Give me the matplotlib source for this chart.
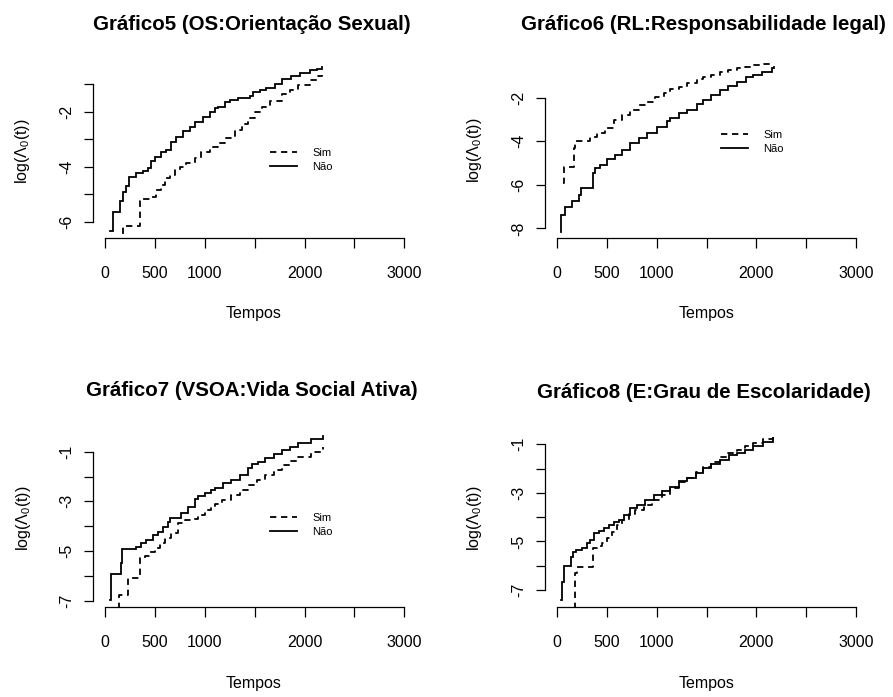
import matplotlib
matplotlib.use("Agg")
import matplotlib.pyplot as plt
from matplotlib.lines import Line2D

plt.rcParams['font.family'] = ['Liberation Sans', 'DejaVu Sans']
plt.rcParams['axes.unicode_minus'] = False
plt.rcParams['mathtext.fontset'] = 'custom'
plt.rcParams['mathtext.rm'] = 'Liberation Sans'
plt.rcParams['mathtext.it'] = 'Liberation Sans:italic'

# ---------------- data ----------------
titles = ["Gráfico5 (OS:Orientação Sexual)",
          "Gráfico6 (RL:Responsabilidade legal)",
          "Gráfico7 (VSOA:Vida Social Ativa)",
          "Gráfico8 (E:Grau de Escolaridade)"]
legend_labels = ["Sim", "Não"]
x_label = "Tempos"
y_label = r"log($\Lambda_0$(t))"
x_ticks = [0, 500, 1000, 1500, 2000, 2500, 3000]
x_ticklabels = ["0", "500", "1000", "", "2000", "", "3000"]

# Panel 5
t5_nao = [43, 76, 144, 177, 210, 237, 311, 378, 428, 462, 495, 562, 612, 662, 713, 780, 847, 897,
          981, 1048, 1098, 1132, 1199, 1250, 1330, 1400, 1450, 1480, 1550, 1617, 1700, 1769, 1860,
          1950, 2050, 2120, 2170]
y5_nao = [-6.33, -5.65, -5.23, -4.90, -4.70, -4.38, -4.24, -4.15, -4.06, -3.79, -3.63, -3.45, -3.40,
          -3.09, -2.91, -2.70, -2.55, -2.37, -2.18, -2.00, -1.88, -1.82, -1.66, -1.58, -1.52, -1.49,
          -1.44, -1.30, -1.22, -1.14, -0.99, -0.83, -0.72, -0.61, -0.51, -0.44, -0.39]
t5_sim = [120, 177, 345, 378, 445, 512, 562, 596, 646, 696, 747, 814, 897, 964, 1048, 1132, 1199,
          1299, 1370, 1433, 1500, 1568, 1650, 1769, 1850, 1936, 2050, 2137, 2170]
y5_sim = [-7.00, -6.13, -5.23, -5.18, -5.08, -4.84, -4.66, -4.42, -4.30, -4.12, -4.00, -3.85, -3.69,
          -3.45, -3.27, -3.15, -2.95, -2.67, -2.45, -2.24, -2.02, -1.82, -1.60, -1.37, -1.20, -1.02,
          -0.85, -0.70, -0.66]

# Panel 6
t6_nao = [40, 43, 84, 150, 218, 244, 358, 385, 435, 502, 585, 652, 736, 819, 903, 1003, 1104, 1134,
          1221, 1301, 1400, 1468, 1550, 1635, 1720, 1803, 1896, 1970, 2060, 2154, 2180]
y6_nao = [-8.15, -7.39, -7.01, -6.73, -6.47, -6.16, -5.47, -5.24, -5.09, -4.83, -4.63, -4.40, -4.10,
          -3.87, -3.64, -3.36, -3.06, -2.95, -2.69, -2.57, -2.30, -2.11, -1.88, -1.65, -1.47, -1.27,
          -1.06, -0.96, -0.80, -0.62, -0.58]
t6_sim = [65, 67, 167, 185, 334, 401, 485, 569, 652, 736, 819, 903, 987, 1071, 1134, 1221, 1301,
          1400, 1468, 1550, 1635, 1720, 1803, 1890, 1970, 2060, 2154]
y6_sim = [-5.93, -5.20, -4.30, -3.97, -3.82, -3.64, -3.41, -3.02, -2.79, -2.57, -2.34, -2.18, -1.95,
          -1.80, -1.61, -1.49, -1.34, -1.15, -1.04, -0.95, -0.81, -0.72, -0.65, -0.57, -0.50, -0.43,
          -0.35]

# Panel 7
t7_nao = [48, 60, 154, 170, 311, 362, 412, 479, 529, 579, 629, 646, 763, 830, 897, 931, 998, 1065,
          1098, 1182, 1266, 1350, 1433, 1467, 1530, 1601, 1690, 1769, 1850, 1936, 2060, 2187]
y7_nao = [-6.97, -5.93, -5.50, -4.92, -4.83, -4.69, -4.56, -4.36, -4.25, -4.02, -3.82, -3.66, -3.48,
          -3.21, -2.90, -2.77, -2.68, -2.54, -2.47, -2.27, -2.14, -1.92, -1.67, -1.51, -1.40, -1.27,
          -1.10, -0.93, -0.80, -0.66, -0.50, -0.36]
t7_sim = [100, 137, 227, 345, 395, 445, 495, 546, 596, 663, 730, 797, 864, 931, 998, 1065, 1098,
          1166, 1266, 1350, 1433, 1520, 1601, 1690, 1769, 1850, 1936, 2060, 2187]
y7_sim = [-7.60, -6.77, -6.10, -5.29, -5.19, -5.03, -4.87, -4.69, -4.49, -4.29, -3.88, -3.75, -3.71,
          -3.55, -3.35, -3.21, -3.12, -2.95, -2.74, -2.54, -2.34, -2.14, -1.94, -1.74, -1.54, -1.37,
          -1.20, -1.00, -0.80]

# Panel 8
t8_nao = [45, 50, 67, 140, 161, 194, 251, 301, 334, 368, 418, 468, 518, 569, 619, 669, 736, 803,
          886, 970, 1053, 1137, 1221, 1301, 1390, 1468, 1550, 1635, 1729, 1803, 1890, 1970, 2070, 2170]
y8_nao = [-7.41, -6.66, -6.00, -5.63, -5.42, -5.35, -5.26, -5.08, -4.94, -4.67, -4.57, -4.46, -4.32,
          -4.21, -4.12, -3.91, -3.64, -3.50, -3.29, -3.09, -2.92, -2.75, -2.50, -2.40, -2.18, -1.99,
          -1.82, -1.65, -1.44, -1.37, -1.22, -1.07, -0.90, -0.73]
t8_sim = [120, 177, 200, 358, 401, 452, 502, 552, 602, 652, 719, 786, 870, 953, 1053, 1137, 1221,
          1301, 1390, 1468, 1550, 1635, 1720, 1803, 1890, 1970, 2070, 2170]
y8_sim = [-8.00, -6.30, -6.04, -5.28, -5.17, -5.08, -4.87, -4.60, -4.32, -4.12, -3.88, -3.71, -3.50,
          -3.29, -3.09, -2.82, -2.57, -2.38, -2.15, -1.92, -1.72, -1.51, -1.36, -1.23, -1.09, -0.96,
          -0.78, -0.62]

# ---------------- layout ----------------
W, H = 893, 697
fig = plt.figure(figsize=(W / 100, H / 100), dpi=100)

panels = [
    dict(box=(93.3, 416.3, 60.0, 237.7), ylim=(-6.569, -0.130), yticks=[-6, -5, -4, -3, -2, -1],
         ylabs=["-6", "", "-4", "", "-2", ""], title=(252, 25), xl=(254, 313.5), yl=(23, 151),
         leg=(0.547, 0.505), data=((t5_sim, y5_sim), (t5_nao, y5_nao))),
    dict(box=(545.0, 868.0, 55.5, 237.7), ylim=(-8.431, -0.062), yticks=[-8, -6, -4, -2],
         ylabs=["-8", "-6", "-4", "-2"], title=(703, 25), xl=(706.5, 313.5), yl=(475, 150),
         leg=(0.545, 0.591), data=((t6_sim, y6_sim), (t6_nao, y6_nao))),
    dict(box=(93.3, 416.3, 430.3, 606.7), ylim=(-7.242, -0.138), yticks=[-7, -6, -5, -4, -3, -2, -1],
         ylabs=["-7", "", "-5", "", "-3", "", "-1"], title=(252, 390), xl=(254, 683.5), yl=(23.5, 518),
         leg=(0.547, 0.531), data=((t7_sim, y7_sim), (t7_nao, y7_nao))),
    dict(box=(545.0, 868.0, 425.6, 606.7), ylim=(-7.689, -0.230), yticks=[-7, -6, -5, -4, -3, -2, -1],
         ylabs=["-7", "", "-5", "", "-3", "", "-1"], title=(703.5, 392), xl=(706.5, 683.5), yl=(475, 518),
         leg=None, data=((t8_sim, y8_sim), (t8_nao, y8_nao))),
]

LW = 1.3
DASH = (3.5, 2.6)
tick_fs = 11.5

for i, p in enumerate(panels):
    l, r, t, b = p["box"]
    ax = fig.add_axes([l / W, 1 - b / H, (r - l) / W, (b - t) / H])
    (ts, ys), (tn, yn) = p["data"]
    ax.plot(tn, yn, drawstyle="steps-post", color="black", lw=LW, solid_joinstyle="miter")
    ax.plot(ts, ys, drawstyle="steps-post", color="black", lw=LW, dashes=DASH)
    ax.set_xlim(-120, 3120)
    ax.set_ylim(*p["ylim"])
    for s in ("top", "right"):
        ax.spines[s].set_visible(False)
    ax.spines["bottom"].set_bounds(x_ticks[0], x_ticks[-1])
    ax.spines["left"].set_bounds(p["yticks"][0], p["yticks"][-1])
    for s in ("bottom", "left"):
        ax.spines[s].set_linewidth(0.9)
    ax.set_xticks(x_ticks)
    ax.set_xticklabels(x_ticklabels, fontsize=tick_fs)
    ax.set_yticks(p["yticks"])
    ax.set_yticklabels(p["ylabs"], fontsize=tick_fs, rotation=90, va="center")
    ax.tick_params(axis="x", length=7.5, width=0.9, pad=13)
    ax.tick_params(axis="y", length=6.5, width=0.9, pad=7)
    ax.patch.set_visible(False)

    fig.text(p["title"][0] / W, 1 - p["title"][1] / H, titles[i], ha="center", va="center",
             fontsize=14.8, fontweight="bold")
    fig.text(p["xl"][0] / W, 1 - p["xl"][1] / H, x_label, ha="center", va="center", fontsize=tick_fs)
    fig.text(p["yl"][0] / W, 1 - p["yl"][1] / H, y_label, ha="center", va="center",
             fontsize=tick_fs, rotation=90)

    if p["leg"] is not None:
        handles = [Line2D([], [], color="black", lw=LW, dashes=DASH),
                   Line2D([], [], color="black", lw=LW)]
        ax.legend(handles, legend_labels, loc="upper left", bbox_to_anchor=p["leg"],
                  frameon=False, fontsize=8, handlelength=2.4, handletextpad=1.4,
                  labelspacing=0.35, borderpad=0, borderaxespad=0)

fig.savefig("out.png", dpi=100)
